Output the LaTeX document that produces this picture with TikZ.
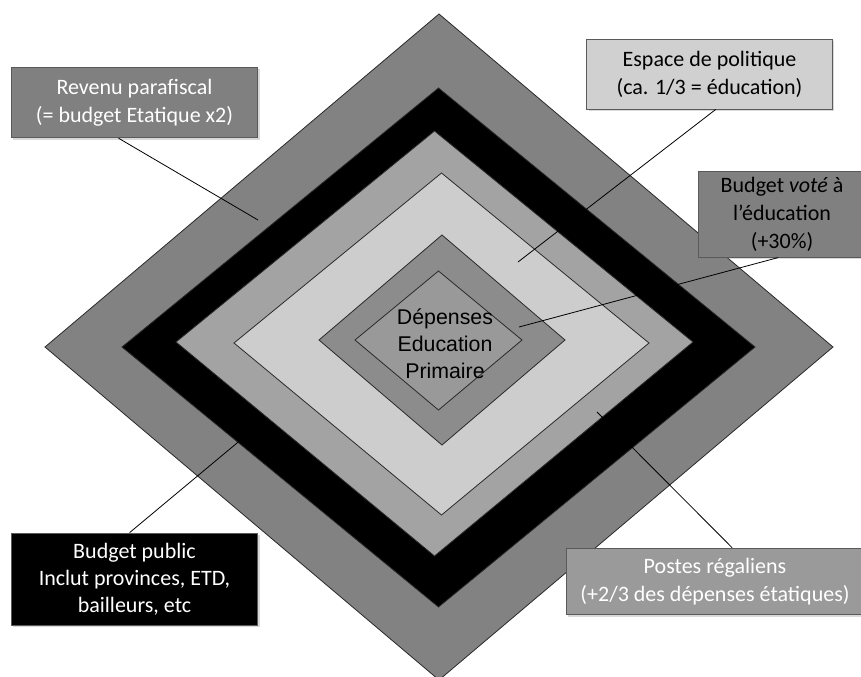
\documentclass[tikz,border=0pt]{standalone}
\usepackage{fontspec}
\setmainfont{Carlito}
\newfontfamily\arialfont{Liberation Sans}
\usetikzlibrary{shadows}
\definecolor{outerring}{HTML}{828282}
\definecolor{midring}{HTML}{A3A3A3}
\definecolor{lightring}{HTML}{CDCDCD}
\definecolor{innerring}{HTML}{8C8C8C}
\definecolor{corering}{HTML}{999999}
\definecolor{edge}{HTML}{2A2A2A}
\definecolor{boxgray}{HTML}{808080}
\definecolor{boxlight}{HTML}{D0D0D0}
\definecolor{boxmid}{HTML}{9A9A9A}
\definecolor{boxline}{HTML}{5A5A5A}
\tikzset{
  ring/.style={draw=edge, line width=0.6pt, line join=miter},
  box/.style={draw=boxline, line width=0.6pt, inner sep=0pt, align=center,
    font=\fontsize{16.5}{21}\selectfont,
    drop shadow={shadow xshift=1.5pt, shadow yshift=-1.5pt, opacity=0.3}},
  lead/.style={draw=black, line width=0.6pt},
  coretext/.style={font=\arialfont\fontsize{16}{20.3}\selectfont, align=center, text=black},
}
\begin{document}
\begin{tikzpicture}[x=0.75pt,y=-0.75pt]
  \useasboundingbox (0,0) rectangle (861,676);
  \clip (0,0) rectangle (861,676);
  % nested rings, outside in
  \foreach \l/\r/\t/\b/\m/\c in {45/833/14/680/347/outerring, 122/755/88/607/347/black,
      176/693/131/556/342/midring, 234/649/173/515/343/lightring,
      319/565/235/445/340/innerring, 355/522/271/410/340/corering}
    \filldraw[ring, fill=\c] (\l,\m) -- ({(\l+\r)/2},\t) -- (\r,\m) -- ({(\l+\r)/2},\b) -- cycle;

  \node[coretext] (dep) at (445,344) {Dépenses\\Education\\Primaire};

  % label boxes
  \node[box, fill=boxgray, text=white, minimum width=185pt, minimum height=53pt] (rev) at (134.5,102.5) {Revenu parafiscal\\(= budget Etatique x2)};
  \node[box, fill=boxlight, text=black, minimum width=184pt, minimum height=52.5pt] (esp) at (709.5,74) {Espace de politique\\(ca. 1/3 = éducation)};
  \node[box, fill=boxgray, text=black, minimum width=126pt, minimum height=64pt] (vote) at (782,214.5) {Budget \textit{voté} à\\l’éducation\\(+30\%)};
  \node[box, fill=black, text=white, minimum width=185pt, minimum height=69pt, font=\fontsize{16.5}{20.3}\selectfont] (pub) at (134.5,579) {Budget public\\Inclut provinces, ETD,\\bailleurs, etc};
  \node[box, fill=boxmid, text=white, minimum width=223.5pt, minimum height=50pt] (post) at (715,581.5) {Postes régaliens\\(+2/3 des dépenses étatiques)};

  % leader lines
  \coordinate (revend) at (258,220);
  \coordinate (espend) at (518,262);
  \coordinate (voteend) at (519,327);
  \coordinate (pubend) at (255,428);
  \coordinate (postend) at (597,412);
  \draw[lead] (rev.246) -- (revend);
  \draw[lead] (esp.280) -- (espend);
  \draw[lead] (vote.265) -- (voteend);
  \draw[lead] (pub.96) -- (pubend);
  \draw[lead] (post.63) -- (postend);
\end{tikzpicture}
\end{document}
